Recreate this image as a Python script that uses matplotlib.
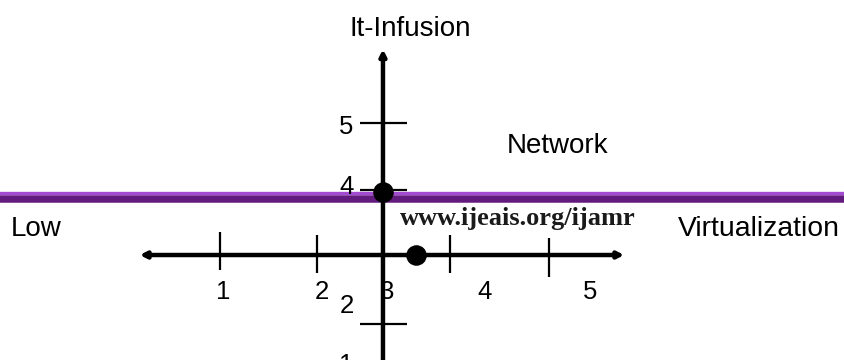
import matplotlib
matplotlib.use("Agg")
import matplotlib.pyplot as plt

# --- dane diagramu -------------------------------------------------------
x_tick_pos = [0.57, 2.02, 4.0, 5.48]
x_tick_top = [3.37, 3.33, 3.33, 3.28]
x_tick_bot = [2.81, 2.76, 2.76, 2.70]
x_labels = ["1", "2", "3", "4", "5"]
x_label_pos = [0.61, 2.09, 3.06, 4.52, 6.09]

y_tick_pos = [5.0, 4.0, 2.0, 1.0]
y_labels = ["5", "4", "2", "1"]
y_label_pos = [4.94, 4.045, 2.27, 1.39]

axis_y = 3.03          # poziom osi "Virtualization"
axis_x = 3.0           # pozycja osi "It-Infusion"
points_x = [3.0, 3.5]
points_y = [3.97, 3.03]

network_level = 3.90   # fioletowa linia

FONT = "Liberation Sans"

fig = plt.figure(figsize=(8.44, 3.6), dpi=100)
ax = fig.add_axes([0, 0, 1, 1])
ax.set_xlim(-2.716, 9.881)
ax.set_ylim(1.463, 6.836)
ax.axis("off")

# fioletowy pas (jasny brzeg + ciemne wnętrze)
ax.axhline(network_level - 0.03, color="#621a7e", lw=5.4, zorder=1)
ax.axhline(network_level + 0.05, color="#a24bd0", lw=2.4, zorder=1)

# osie ze strzałkami
ax.annotate("", xy=(-0.63, axis_y), xytext=(6.60, axis_y),
            arrowprops=dict(arrowstyle="<|-|>,head_length=0.35,head_width=0.18",
                            lw=3.2, color="black", shrinkA=0, shrinkB=0), zorder=2)
ax.annotate("", xy=(axis_x, 6.1), xytext=(axis_x, 1.3),
            arrowprops=dict(arrowstyle="-|>,head_length=0.35,head_width=0.18",
                            lw=3.2, color="black", shrinkA=0, shrinkB=0), zorder=2)

# podziałki
ax.vlines(x_tick_pos, x_tick_bot, x_tick_top, color="black", lw=1.6, zorder=2)
ax.hlines(y_tick_pos, 2.657, 3.358, color="black", lw=1.6, zorder=2)

for lab, xp in zip(x_labels, x_label_pos):
    ax.text(xp, 2.48, lab, fontsize=18.5, family=FONT, ha="center", va="center")
for lab, yp in zip(y_labels, y_label_pos):
    ax.text(2.455, yp, lab, fontsize=18.5, family=FONT, ha="center", va="center",
            clip_on=False)

# punkty
ax.scatter(points_x, points_y, s=190, color="black", zorder=3)

# opisy
ax.text(3.40, 6.40, "It-Infusion", fontsize=20, family=FONT, ha="center", va="center")
ax.text(5.60, 4.657, "Network", fontsize=20, family=FONT, ha="center", va="center")
ax.text(-2.55, 3.418, "Low", fontsize=20, family=FONT, ha="left", va="center")
ax.text(7.40, 3.418, "Virtualization", fontsize=20.4, family=FONT, ha="left", va="center")
ax.text(3.254, 3.478, "www.ijeais.org/ijamr", fontsize=19, family="Liberation Serif",
        fontweight="bold", color="#1a1a1a", ha="left", va="baseline")

fig.savefig("out.png", dpi=100)
